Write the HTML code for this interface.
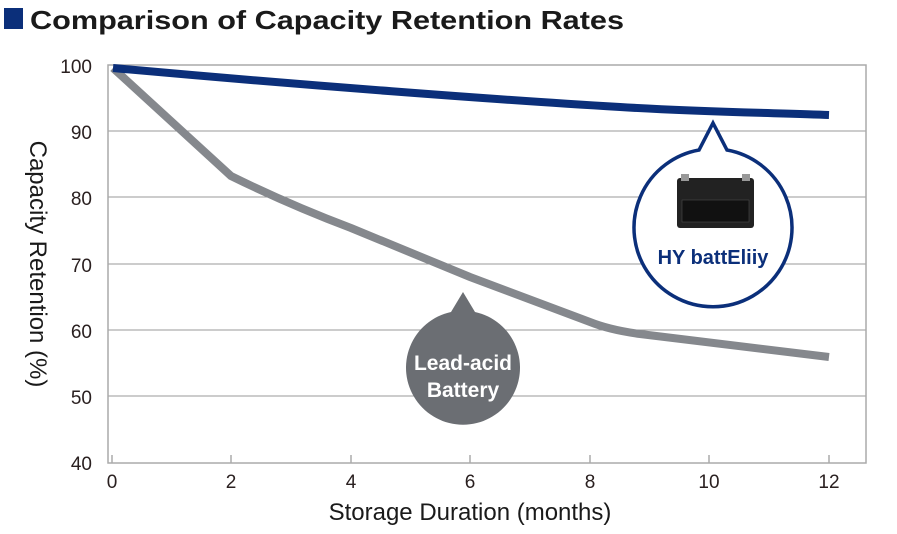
<!DOCTYPE html>
<html><head><style>
body{margin:0;background:#fff;width:897px;height:529px;overflow:hidden;font-family:"Liberation Sans",sans-serif;}
</style></head><body>
<svg width="897" height="529" xmlns="http://www.w3.org/2000/svg" font-family="Liberation Sans, sans-serif">
<rect x="4" y="8" width="19" height="21" fill="#0b2f7a"/>
<text x="30" y="29" font-size="26" font-weight="bold" fill="#1a1a1a" textLength="594" lengthAdjust="spacingAndGlyphs">Comparison of Capacity Retention Rates</text>
<g stroke="#999" stroke-width="1">
<line x1="108" y1="131" x2="866" y2="131"/><line x1="108" y1="197" x2="866" y2="197"/>
<line x1="108" y1="264" x2="866" y2="264"/><line x1="108" y1="330" x2="866" y2="330"/>
<line x1="108" y1="396" x2="866" y2="396"/>
</g>
<rect x="108" y="65" width="758" height="398" fill="none" stroke="#aaa" stroke-width="1.5"/>
<g stroke="#aaa" stroke-width="1.5">
<line x1="112" y1="455" x2="112" y2="463"/><line x1="231" y1="455" x2="231" y2="463"/><line x1="351" y1="455" x2="351" y2="463"/><line x1="470" y1="455" x2="470" y2="463"/><line x1="590" y1="455" x2="590" y2="463"/><line x1="709" y1="455" x2="709" y2="463"/><line x1="829" y1="455" x2="829" y2="463"/>
</g>
<g font-size="19" fill="#2a2020" text-anchor="end">
<text x="92" y="73">100</text><text x="92" y="139">90</text><text x="92" y="205">80</text><text x="92" y="272">70</text><text x="92" y="338">60</text><text x="92" y="404">50</text><text x="92" y="470">40</text>
</g>
<g font-size="19" fill="#2a2020" text-anchor="middle">
<text x="112" y="488">0</text><text x="231" y="488">2</text><text x="351" y="488">4</text><text x="470" y="488">6</text><text x="590" y="488">8</text><text x="709" y="488">10</text><text x="829" y="488">12</text>
</g>
<text x="470" y="520" font-size="24" fill="#1a1a1a" text-anchor="middle">Storage Duration (months)</text>
<text transform="translate(30,264) rotate(90)" font-size="24" fill="#1a1a1a" text-anchor="middle">Capacity Retention (%)</text>
<path d="M113,68 L231,176 Q290,205 351,228 L470,277 L590,322 Q610,330 640,334 L829,357" fill="none" stroke="#85888d" stroke-width="8"/>
<path d="M113,68 C300,85 500,100 620,107 C700,112 780,113 829,115" fill="none" stroke="#0b2f7a" stroke-width="8"/>
<path d="M463,292 L475,312 A57,57 0 1,1 451,312 Z" fill="#6b6e73"/>
<text x="463" y="370" font-size="21" font-weight="bold" fill="#fff" text-anchor="middle">Lead-acid</text>
<text x="463" y="397" font-size="21" font-weight="bold" fill="#fff" text-anchor="middle">Battery</text>
<path d="M713,123 L727,150 A79,79 0 1,1 699,150 Z" fill="#fff" stroke="#0b2f7a" stroke-width="3.5"/>
<rect x="677" y="178" width="77" height="50" rx="3" fill="#222"/>
<rect x="681" y="174" width="8" height="7" fill="#999"/><rect x="742" y="174" width="8" height="7" fill="#999"/>
<rect x="682" y="200" width="67" height="22" fill="#111" stroke="#555" stroke-width="0.5"/>
<text x="713" y="264" font-size="20" font-weight="bold" fill="#0b2f7a" text-anchor="middle">HY battEliiy</text>
</svg>
</body></html>
